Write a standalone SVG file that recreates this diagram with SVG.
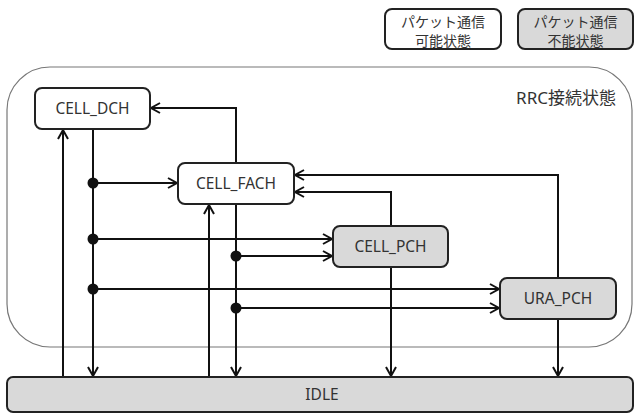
<svg xmlns="http://www.w3.org/2000/svg" width="635" height="414" viewBox="0 0 635 414">
<style>
.node{stroke:#222;stroke-width:2}
.w{fill:#fff}
.g{fill:#d9d9d9}
.t{font-family:"Noto Sans","Open Sans","Noto Sans CJK JP",sans-serif;font-size:15.5px;fill:#333;text-anchor:middle}
.j{font-family:"Noto Sans CJK JP","Noto Sans",sans-serif;font-size:14px;fill:#333;text-anchor:middle}
.c{fill:none;stroke:#111;stroke-width:2}
</style>
<defs>
<marker id="a" markerUnits="userSpaceOnUse" markerWidth="14" markerHeight="14" viewBox="0 0 14 14" refX="10" refY="6" orient="auto">
<path d="M1,1 L10,6 L1,11" fill="none" stroke="#111" stroke-width="2"/>
</marker>
</defs>
<rect id="rrc" x="7" y="67" width="625" height="280" rx="43" fill="none" stroke="#777" stroke-width="1.2"/>
<text x="616" y="104" style="text-anchor:end;font-family:'Noto Sans','Noto Sans CJK JP',sans-serif;font-size:17px;fill:#333">RRC接続状態</text>
<g id="legend-ok"><rect class="node w" x="385" y="9" width="116" height="40" rx="7"/><text class="j" x="443" y="27">パケット通信</text><text class="j" x="443" y="46">可能状態</text></g>
<g id="legend-ng"><rect class="node g" x="518" y="9" width="115" height="40" rx="7"/><text class="j" x="575.5" y="27">パケット通信</text><text class="j" x="575.5" y="46">不能状態</text></g>
<g id="connectors">
<path class="c" d="M63,377 V130" marker-end="url(#a)"/>
<path class="c" d="M93,129 V376" marker-end="url(#a)"/>
<path class="c" d="M93,183 H177" marker-end="url(#a)"/>
<path class="c" d="M93,239 H332" marker-end="url(#a)"/>
<path class="c" d="M93,289 H499" marker-end="url(#a)"/>
<path class="c" d="M236,163 V108 H151" marker-end="url(#a)"/>
<path class="c" d="M209,377 V205" marker-end="url(#a)"/>
<path class="c" d="M236,204 V376" marker-end="url(#a)"/>
<path class="c" d="M236,256 H332" marker-end="url(#a)"/>
<path class="c" d="M236,308 H499" marker-end="url(#a)"/>
<path class="c" d="M391,226 V192 H295" marker-end="url(#a)"/>
<path class="c" d="M391,267 V376" marker-end="url(#a)"/>
<path class="c" d="M558,278 V175 H295" marker-end="url(#a)"/>
<path class="c" d="M558,319 V376" marker-end="url(#a)"/>
<g fill="#111"><circle cx="93" cy="183" r="5.5"/><circle cx="93" cy="239" r="5.5"/><circle cx="93" cy="289" r="5.5"/><circle cx="236" cy="256" r="5.5"/><circle cx="236" cy="308" r="5.5"/></g>
</g>
<g id="cell_dch"><rect class="node w" x="35" y="88" width="115" height="41" rx="7"/><text class="t" x="92.5" y="114">CELL_DCH</text></g>
<g id="cell_fach"><rect class="node w" x="178" y="163" width="116" height="41" rx="7"/><text class="t" x="236" y="189">CELL_FACH</text></g>
<g id="cell_pch"><rect class="node g" x="333" y="226" width="115" height="41" rx="7"/><text class="t" x="390.5" y="252">CELL_PCH</text></g>
<g id="ura_pch"><rect class="node g" x="500" y="278" width="116" height="41" rx="7"/><text class="t" x="558" y="304">URA_PCH</text></g>
<g id="idle"><rect class="node g" x="7" y="377" width="626" height="35" rx="6"/><text class="t" x="322" y="400">IDLE</text></g>
</svg>
